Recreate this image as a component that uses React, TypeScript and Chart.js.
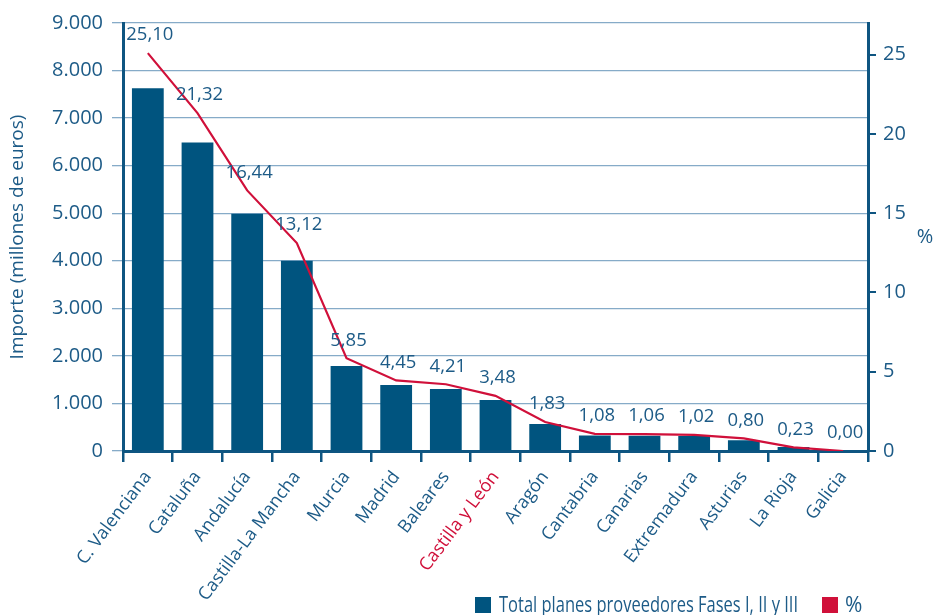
import React, { useEffect, useRef } from 'react';
import { Chart, registerables } from 'chart.js';

Chart.register(...registerables);

const categories = [
  'C. Valenciana', 'Cataluña', 'Andalucía', 'Castilla-La Mancha', 'Murcia', 'Madrid',
  'Baleares', 'Castilla y León', 'Aragón', 'Cantabria', 'Canarias', 'Extremadura',
  'Asturias', 'La Rioja', 'Galicia',
];
const importe = [7630, 6485, 4990, 4000, 1790, 1390, 1305, 1070, 570, 325, 320, 315, 225, 85, 0];
const porcentaje = [25.10, 21.32, 16.44, 13.12, 5.85, 4.45, 4.21, 3.48, 1.83, 1.08, 1.06, 1.02, 0.80, 0.23, 0.00];
const highlighted = ['Castilla y León'];

const barLabel = 'Total planes proveedores Fases I, II y III';
const lineLabel = '%';
const leftTitle = 'Importe (millones de euros)';
const rightTitle = '%';

const BLUE = '#00547f';
const TEXT = '#1d5b87';
const RED = '#d0103a';
const GRID = '#86abc8';
const AXIS = '#0e5581';
const FONT = "'Open Sans', 'DejaVu Sans', sans-serif";

const fmtThousands = (v: number) => String(v).replace(/\B(?=(\d{3})+(?!\d))/g, '.');
const fmtPct = (v: number) => v.toFixed(2).replace('.', ',');

const extrasPlugin = {
  id: 'extras',
  afterDatasetsDraw(chart: any) {
    const ctx = chart.ctx;
    const meta = chart.getDatasetMeta(1);
    ctx.save();
    ctx.font = `18.5px ${FONT}`;
    ctx.fillStyle = TEXT;
    ctx.textAlign = 'center';
    ctx.textBaseline = 'middle';
    meta.data.forEach((pt: any, i: number) => {
      const xs = chart.scales.x.getPixelForValue(i);
      ctx.fillText(fmtPct(porcentaje[i]), xs + 2, pt.y - 18);
    });
    ctx.restore();
  },
  afterDraw(chart: any) {
    const ctx = chart.ctx;
    const area = chart.chartArea;
    ctx.save();
    ctx.font = `20px ${FONT}`;
    ctx.fillStyle = TEXT;
    ctx.textAlign = 'center';
    ctx.textBaseline = 'middle';
    ctx.fillText(rightTitle, 925, (area.top + area.bottom) / 2);

    const y0 = 597;
    ctx.fillStyle = BLUE;
    ctx.fillRect(475, y0, 16, 16);
    ctx.fillStyle = RED;
    ctx.fillRect(822, y0, 16, 16);
    ctx.fillStyle = TEXT;
    ctx.textAlign = 'left';
    ctx.textBaseline = 'alphabetic';
    ctx.font = `21px ${FONT}`;
    const w = ctx.measureText(barLabel).width;
    const target = 299;
    ctx.save();
    ctx.translate(499, 612);
    ctx.scale(target / w, 1);
    ctx.fillText(barLabel, 0, 0);
    ctx.restore();
    ctx.font = `21px ${FONT}`;
    ctx.fillText(lineLabel, 845, 612);
    ctx.restore();
  },
};

export default function App() {
  const ref = useRef<HTMLCanvasElement | null>(null);
  useEffect(() => {
    if (!ref.current) return;
    const chart = new Chart(ref.current, {
      type: 'bar',
      data: {
        labels: categories,
        datasets: [
          {
            type: 'bar',
            label: barLabel,
            data: importe,
            backgroundColor: BLUE,
            yAxisID: 'y',
            categoryPercentage: 1,
            barPercentage: 0.64,
            order: 2,
          },
          {
            type: 'line',
            label: lineLabel,
            data: porcentaje,
            borderColor: RED,
            backgroundColor: RED,
            borderWidth: 2.2,
            pointRadius: 0,
            tension: 0,
            yAxisID: 'y1',
            order: 1,
          },
        ],
      },
      options: {
        responsive: false,
        animation: false,
        layout: { padding: { top: 23, left: 0, right: 0, bottom: 0 } },
        plugins: {
          legend: { display: false },
          tooltip: { enabled: false },
        },
        scales: {
          x: {
            grid: {
              offset: true,
              drawOnChartArea: false,
              drawTicks: true,
              tickLength: 11,
              color: AXIS,
              lineWidth: 2.5,
            },
            border: { display: true, color: AXIS, width: 3 },
            ticks: {
              minRotation: 53,
              maxRotation: 53,
              autoSkip: false,
              padding: 5,
              font: { family: FONT, size: 18 },
              color: (c: any) => (highlighted.includes(categories[c.index]) ? RED : TEXT),
            },
            afterFit: (s: any) => { s.height = 164; },
          },
          y: {
            position: 'left',
            min: 0,
            max: 9000,
            ticks: {
              stepSize: 1000,
              padding: 9,
              font: { family: FONT, size: 20 },
              color: TEXT,
              callback: (v: any) => fmtThousands(Number(v)),
            },
            grid: { color: GRID, lineWidth: 1.3, tickLength: 11 },
            border: { display: true, color: AXIS, width: 3 },
            title: {
              display: true,
              text: leftTitle,
              color: TEXT,
              font: { family: FONT, size: 19 },
              padding: { top: 6, bottom: 0 },
            },
            afterFit: (s: any) => { s.width = 123; },
          },
          y1: {
            position: 'right',
            min: 0,
            max: 27,
            ticks: {
              stepSize: 5,
              padding: 7,
              font: { family: FONT, size: 20 },
              color: TEXT,
            },
            afterBuildTicks: (s: any) => {
              s.ticks = s.ticks.filter((t: any) => t.value % 5 === 0);
            },
            grid: { drawOnChartArea: false, tickLength: 8, color: AXIS, lineWidth: 2 },
            border: { display: true, color: AXIS, width: 3 },
            afterFit: (s: any) => { s.width = 69; },
          },
        },
      },
      plugins: [extrasPlugin],
    } as any);
    return () => chart.destroy();
  }, []);

  return (
    <canvas
      ref={ref}
      width={937}
      height={615}
      style={{ position: 'fixed', left: 0, top: 0, width: 937, height: 615 }}
    />
  );
}
